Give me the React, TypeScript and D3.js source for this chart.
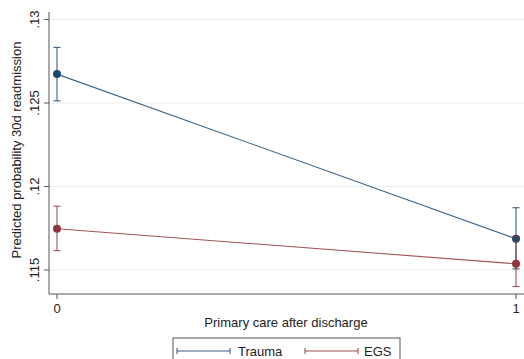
import React from "react";
import * as d3 from "d3";

const xCats = [0, 1];
const xTickLabels = ["0", "1"];
const yTicks = [0.115, 0.12, 0.125, 0.13];
const yTickLabels = [".115", ".12", ".125", ".13"];

const traumaMean = [0.12673, 0.11687];
const traumaLo = [0.12513, 0.11507];
const traumaHi = [0.12833, 0.11873];

const egsMean = [0.11747, 0.11537];
const egsLo = [0.11616, 0.11401];
const egsHi = [0.11882, 0.1170];

const seriesNames = ["Trauma", "EGS"];
const seriesColors = ["#1a476f", "#90353b"];

export default function App() {
  const W = 524, H = 359;
  const x = d3.scaleLinear().domain([0, 1]).range([57, 516]);
  const y = d3.scaleLinear().domain([0.115, 0.13]).range([270, 19.5]);
  const font = "'Liberation Sans', Arial, Helvetica, sans-serif";
  const axisColor = "#555";
  const plotLeft = 49, plotBottom = 294, plotTop = 12, plotRight = 524;

  const series = [
    { name: seriesNames[0], color: seriesColors[0], mean: traumaMean, lo: traumaLo, hi: traumaHi },
    { name: seriesNames[1], color: seriesColors[1], mean: egsMean, lo: egsLo, hi: egsHi },
  ];
  const line = d3.line<number>().x((_, i) => x(xCats[i])).y((d) => y(d));

  return (
    <svg width={W} height={H} style={{ position: "absolute", left: 0, top: 0, background: "#fff" }}>
      <rect x={0} y={0} width={W} height={H} fill="#fff" />
      {yTicks.map((t) => (
        <line key={"g" + t} x1={plotLeft} x2={plotRight} y1={y(t)} y2={y(t)} stroke="#e6eeee" strokeWidth={1} />
      ))}
      <line x1={plotLeft} x2={plotLeft} y1={plotTop} y2={plotBottom} stroke={axisColor} strokeWidth={1} />
      {yTicks.map((t, i) => (
        <g key={"yt" + t}>
          <line x1={plotLeft - 5} x2={plotLeft} y1={y(t)} y2={y(t)} stroke={axisColor} strokeWidth={1} />
          <text
            transform={`translate(${plotLeft - 10},${y(t)}) rotate(-90)`}
            textAnchor="middle"
            fontFamily={font}
            fontSize={13}
            fill="#222"
          >
            {yTickLabels[i]}
          </text>
        </g>
      ))}
      <text
        transform={`translate(21,150) rotate(-90)`}
        textAnchor="middle"
        fontFamily={font}
        fontSize={13}
        fill="#222"
      >
        Predicted probability 30d readmission
      </text>
      <line x1={plotLeft} x2={plotRight} y1={plotBottom} y2={plotBottom} stroke={axisColor} strokeWidth={1} />
      {xCats.map((c, i) => (
        <g key={"xt" + c}>
          <line x1={x(c)} x2={x(c)} y1={plotBottom} y2={plotBottom + 5} stroke={axisColor} strokeWidth={1} />
          <text x={x(c)} y={plotBottom + 19} textAnchor="middle" fontFamily={font} fontSize={13} fill="#222">
            {xTickLabels[i]}
          </text>
        </g>
      ))}
      <text x={286} y={327} textAnchor="middle" fontFamily={font} fontSize={13} fill="#222">
        Primary care after discharge
      </text>
      {series.map((s) => (
        <g key={s.name}>
          <path d={line(s.mean) || ""} fill="none" stroke={s.color} strokeWidth={1.1} opacity={0.85} />
          {xCats.map((c, i) => (
            <g key={c}>
              <line x1={x(c)} x2={x(c)} y1={y(s.lo[i])} y2={y(s.hi[i])} stroke={s.color} strokeWidth={1.1} opacity={0.85} />
              <line x1={x(c) - 3.5} x2={x(c) + 3.5} y1={y(s.lo[i])} y2={y(s.lo[i])} stroke={s.color} strokeWidth={1.1} opacity={0.85} />
              <line x1={x(c) - 3.5} x2={x(c) + 3.5} y1={y(s.hi[i])} y2={y(s.hi[i])} stroke={s.color} strokeWidth={1.1} opacity={0.85} />
              <circle cx={x(c)} cy={y(s.mean[i])} r={4} fill={s.color} />
            </g>
          ))}
        </g>
      ))}
      <rect x={173} y={338} width={227} height={30} fill="#fff" stroke={axisColor} strokeWidth={1} />
      {series.map((s, i) => {
        const x0 = i === 0 ? 177 : 305;
        const tx = i === 0 ? 238 : 364;
        return (
          <g key={"lg" + s.name}>
            <line x1={x0} x2={x0 + 53} y1={351} y2={351} stroke={s.color} strokeWidth={1.1} opacity={0.85} />
            <line x1={x0} x2={x0} y1={348} y2={354} stroke={s.color} strokeWidth={1.1} opacity={0.85} />
            <line x1={x0 + 53} x2={x0 + 53} y1={348} y2={354} stroke={s.color} strokeWidth={1.1} opacity={0.85} />
            <text x={tx} y={356} fontFamily={font} fontSize={13} fill="#222">
              {s.name}
            </text>
          </g>
        );
      })}
    </svg>
  );
}
